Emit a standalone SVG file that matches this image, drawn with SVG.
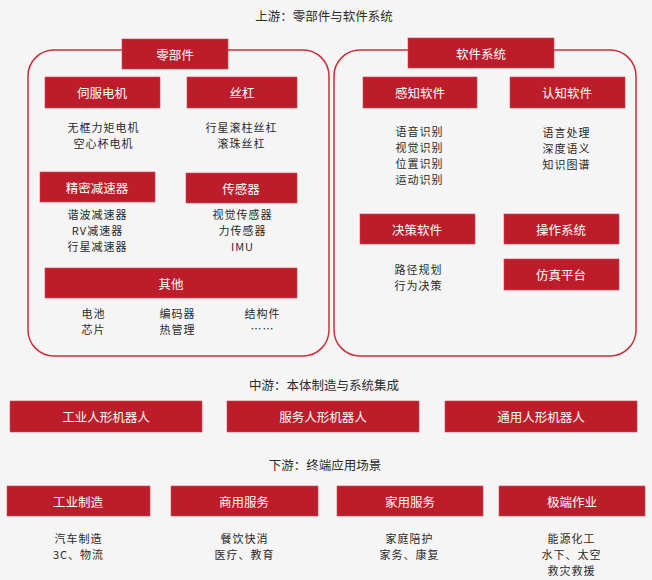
<svg xmlns="http://www.w3.org/2000/svg" width="652" height="580" viewBox="0 0 652 580">
<style>
.bg{fill:#f5f5f5}
.cont{fill:none;stroke:#c9303d;stroke-width:1.5}
.box{fill:#bd1c2a;stroke:#d04a55;stroke-width:0.6}
.lbl{font-family:"Noto Sans CJK SC","Noto Sans",sans-serif;font-size:12.5px;fill:#ffffff;text-anchor:middle;dominant-baseline:central}
.ttl{font-family:"Noto Sans CJK SC","Noto Sans",sans-serif;font-size:12.5px;fill:#2a2a2a;text-anchor:middle;dominant-baseline:central}
.txt{font-family:"Noto Sans CJK SC","Noto Sans",sans-serif;font-size:11px;letter-spacing:1px;fill:#2a2a2a;text-anchor:middle;dominant-baseline:central}
</style>
<rect class="bg" x="0" y="0" width="652" height="580"/>
<g id="titles">
<text class="ttl" x="324" y="15">上游：零部件与软件系统</text>
<text class="ttl" x="324" y="384">中游：本体制造与系统集成</text>
<text class="ttl" x="325" y="464">下游：终端应用场景</text>
</g>
<g id="containers">
<rect class="cont" x="28" y="50" width="301" height="306" rx="26" ry="26"/>
<rect class="cont" x="334" y="50" width="302" height="306" rx="26" ry="26"/>
</g>
<g id="hdr-parts"><rect class="box" x="122" y="39" width="106" height="30"/><text class="lbl" x="175" y="54">零部件</text></g>
<g id="hdr-soft"><rect class="box" x="408" y="38" width="146" height="30"/><text class="lbl" x="481" y="53">软件系统</text></g>
<g id="servo"><rect class="box" x="45" y="77" width="115" height="31"/><text class="lbl" x="102" y="92.5">伺服电机</text>
<text class="txt" x="103.5" y="126.5">无框力矩电机<tspan x="103.5" dy="16">空心杯电机</tspan></text></g>
<g id="screw"><rect class="box" x="187" y="77" width="110" height="31"/><text class="lbl" x="242" y="92.5">丝杠</text>
<text class="txt" x="241.5" y="126.5">行星滚柱丝杠<tspan x="241.5" dy="16">滚珠丝杠</tspan></text></g>
<g id="reducer"><rect class="box" x="40" y="172" width="115" height="30"/><text class="lbl" x="97" y="187">精密减速器</text>
<text class="txt" x="97.5" y="214">谐波减速器<tspan x="97.5" dy="16">RV减速器</tspan><tspan x="97.5" dy="16">行星减速器</tspan></text></g>
<g id="sensor"><rect class="box" x="186" y="173" width="111" height="30"/><text class="lbl" x="241" y="188">传感器</text>
<text class="txt" x="242.5" y="214">视觉传感器<tspan x="242.5" dy="16">力传感器</tspan><tspan x="242.5" dy="16">IMU</tspan></text></g>
<g id="other"><rect class="box" x="45" y="268" width="252" height="30"/><text class="lbl" x="171" y="283">其他</text>
<text class="txt" x="93.5" y="313">电池<tspan x="93.5" dy="16">芯片</tspan></text>
<text class="txt" x="177.5" y="313">编码器<tspan x="177.5" dy="16">热管理</tspan></text>
<text class="txt" x="262.5" y="313">结构件<tspan x="262.5" dy="15">……</tspan></text></g>
<g id="perception"><rect class="box" x="363" y="77" width="114" height="31"/><text class="lbl" x="420" y="92.5">感知软件</text>
<text class="txt" x="419.5" y="131">语音识别<tspan x="419.5" dy="16">视觉识别</tspan><tspan x="419.5" dy="16">位置识别</tspan><tspan x="419.5" dy="16">运动识别</tspan></text></g>
<g id="cognition"><rect class="box" x="510" y="77" width="115" height="31"/><text class="lbl" x="567" y="92.5">认知软件</text>
<text class="txt" x="566.5" y="131.5">语言处理<tspan x="566.5" dy="16">深度语义</tspan><tspan x="566.5" dy="16">知识图谱</tspan></text></g>
<g id="decision"><rect class="box" x="360" y="214" width="115" height="30"/><text class="lbl" x="417" y="229">决策软件</text>
<text class="txt" x="418.5" y="268.5">路径规划<tspan x="418.5" dy="16">行为决策</tspan></text></g>
<g id="os"><rect class="box" x="504" y="214" width="115" height="30"/><text class="lbl" x="561" y="229">操作系统</text></g>
<g id="sim"><rect class="box" x="504" y="259" width="115" height="31"/><text class="lbl" x="561" y="274.5">仿真平台</text></g>
<g id="mid-industrial"><rect class="box" x="10" y="401" width="192" height="31"/><text class="lbl" x="106" y="416.5">工业人形机器人</text></g>
<g id="mid-service"><rect class="box" x="227" y="401" width="192" height="31"/><text class="lbl" x="323" y="416.5">服务人形机器人</text></g>
<g id="mid-general"><rect class="box" x="445" y="401" width="192" height="31"/><text class="lbl" x="541" y="416.5">通用人形机器人</text></g>
<g id="down-mfg"><rect class="box" x="7" y="486" width="143" height="30"/><text class="lbl" x="78" y="501">工业制造</text>
<text class="txt" x="78.5" y="538">汽车制造<tspan x="78.5" dy="16">3C、物流</tspan></text></g>
<g id="down-comm"><rect class="box" x="171" y="486" width="147" height="30"/><text class="lbl" x="244" y="501">商用服务</text>
<text class="txt" x="244.5" y="538">餐饮快消<tspan x="244.5" dy="16">医疗、教育</tspan></text></g>
<g id="down-home"><rect class="box" x="337" y="486" width="146" height="30"/><text class="lbl" x="410" y="501">家用服务</text>
<text class="txt" x="409.5" y="538">家庭陪护<tspan x="409.5" dy="16">家务、康复</tspan></text></g>
<g id="down-extreme"><rect class="box" x="499" y="486" width="146" height="30"/><text class="lbl" x="572" y="501">极端作业</text>
<text class="txt" x="571.5" y="537.5">能源化工<tspan x="571.5" dy="16">水下、太空</tspan><tspan x="571.5" dy="16">救灾救援</tspan></text></g>
<g id="connectors"></g>
</svg>
